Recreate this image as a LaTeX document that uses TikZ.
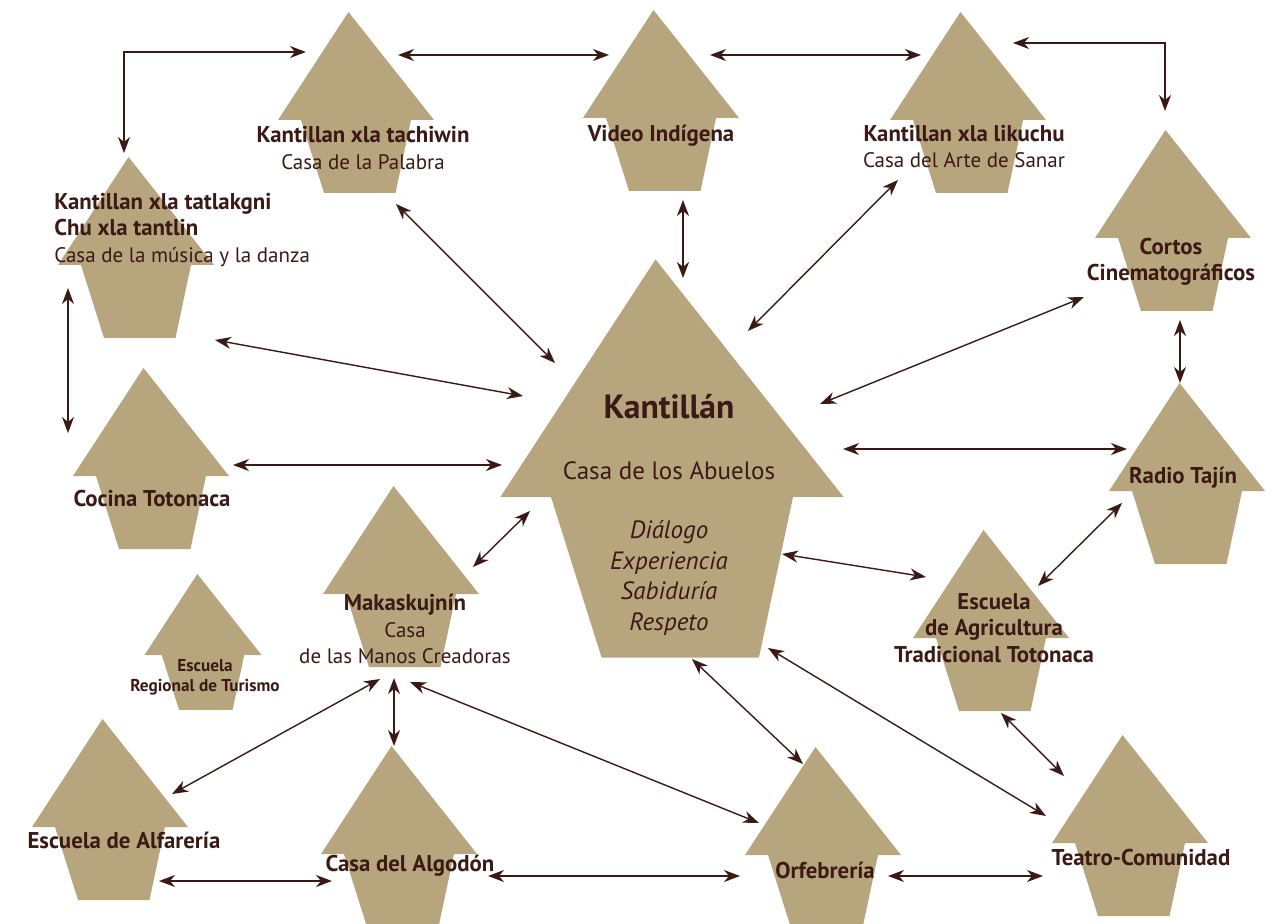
\documentclass[tikz,border=0pt]{standalone}
\usepackage{fontspec}
\setmainfont{PT Sans}
\usetikzlibrary{arrows.meta}

\definecolor{arena}{RGB}{183,165,126}
\definecolor{cafe}{RGB}{59,26,22}

% casa: nombre, x, y (centro del alero), escala
\newcommand{\casa}[4]{%
  \fill[arena,shift={(#2,#3)},scale=#4] (-7.5,-108) -- (78,0) -- (55,0)
    -- (39.5,73) -- (-32,73) -- (-55,0) -- (-78,0) -- cycle;
  \coordinate (#1) at (#2,#3);}
\newcommand{\negr}[1]{{\fontsize{11.4}{13.25}\selectfont\bfseries #1}}

\begin{document}
\begin{tikzpicture}[x=0.5pt,y=-0.5pt,
  every node/.style = {text=cafe, align=center, inner sep=0pt,
    font=\fontsize{10.5}{13.25}\selectfont},
  >={Stealth[length=8pt,width=6pt,inset=2.5pt]},
  flecha/.style = {draw=cafe, line width=0.7pt, <->}]
  \useasboundingbox (0,0) rectangle (1277,924);

  \casa{pal}{356}{120}{1}
  \casa{vid}{661}{118}{1}
  \casa{lik}{968}{120}{1}
  \casa{cor}{1173}{238}{1}
  \casa{tat}{136}{265}{1}
  \casa{coc}{151}{476}{1}
  \casa{tur}{203}{655}{0.75}
  \casa{mak}{401}{594}{1}
  \casa{alf}{110}{827}{1}
  \casa{alg}{399}{854}{1}
  \casa{orf}{823}{855}{1}
  \casa{tea}{1130}{843}{1}
  \casa{agr}{991}{638}{1}
  \casa{rad}{1187}{491}{1}
  \casa{kan}{672}{497}{2.2}

  \node (pal-t) at (363,148) {\negr{Kantillan xla tachiwin}\\Casa de la Palabra};
  \node (vid-t) at (661,136) {\negr{Video Indígena}};
  \node (lik-t) at (964,146.5) {\negr{Kantillan xla likuchu}\\Casa del Arte de Sanar};
  \node (cor-t) at (1171,262) {\negr{Cortos}\\\negr{Cinematográficos}};
  \node[anchor=west, align=left] (tat-t) at (54,230)
    {\negr{Kantillan xla tatlakgni}\\\negr{Chu xla tantlin}\\Casa de la música y la danza};
  \node (coc-t) at (152,499) {\negr{Cocina Totonaca}};
  \node[font=\fontsize{8.6}{10}\selectfont\bfseries] (tur-t) at (205,677)
    {Escuela\\Regional de Turismo};
  \node (mak-t) at (405,629) {\negr{Makaskujnín}\\Casa\\de las Manos Creadoras};
  \node[font=\fontsize{16.8}{18}\selectfont\bfseries] (kan-t) at (669,407) {Kantillán};
  \node[font=\fontsize{12.5}{15}\selectfont] (kan-s) at (669,471) {Casa de los Abuelos};
  \node[font=\fontsize{12.5}{15.2}\selectfont\itshape] (kan-v) at (669,578)
    {Diálogo\\Experiencia\\Sabiduría\\Respeto};
  \node (rad-t) at (1183,478) {\negr{Radio Tajín}};
  \node (agr-t) at (994,628) {\negr{Escuela}\\\negr{de Agricultura}\\\negr{Tradicional Totonaca}};
  \node (alf-t) at (124,840) {\negr{Escuela de Alfarería}};
  \node (alg-t) at (410,866) {\negr{Casa del Algodón}};
  \node (orf-t) at (825,870) {\negr{Orfebrería}};
  \node (tea-t) at (1141,858) {\negr{Teatro-Comunidad}};

  \draw[flecha] ([shift={(-50,-68)}]pal) -| ([shift={(-12,-112)}]tat);
  \draw[flecha] ([shift={(42,-65)}]pal) -- ([shift={(-52,-63)}]vid);
  \draw[flecha] ([shift={(49,-63)}]vid) -- ([shift={(-47,-65)}]lik);
  \draw[flecha] ([shift={(45,-77)}]lik) -| ([shift={(-8,-127)}]cor);
  \draw[flecha] ([shift={(22,82)}]vid) -- ([shift={(11,-219)}]kan);
  \draw[flecha] ([shift={(-70,60)}]lik) -- ([shift={(76,-166)}]kan);
  \draw[flecha] ([shift={(40,84)}]pal) -- ([shift={(-117,-134)}]kan);
  \draw[flecha] ([shift={(79,75)}]tat) -- ([shift={(-149,-101)}]kan);
  \draw[flecha] ([shift={(-68,23)}]tat) -- ([shift={(-83,-43)}]coc);
  \draw[flecha] ([shift={(82,-11)}]coc) -- ([shift={(-170,-32)}]kan);
  \draw[flecha] ([shift={(72,-27)}]mak) -- ([shift={(-142,14)}]kan);
  \draw[flecha] ([shift={(-89,59)}]cor) -- ([shift={(148,-93)}]kan);
  \draw[flecha] ([shift={(7,82)}]cor) -- ([shift={(-7,-108)}]rad);
  \draw[flecha] ([shift={(171,-48)}]kan) -- ([shift={(-60,-42)}]rad);
  \draw[flecha] ([shift={(-65,12)}]rad) -- ([shift={(47,-52)}]agr);
  \draw[flecha] ([shift={(110,57)}]kan) -- ([shift={(-65,-61)}]agr);
  \draw[flecha] ([shift={(20,162)}]kan) -- ([shift={(-20,-91)}]orf);
  \draw[flecha] ([shift={(96,151)}]kan) -- ([shift={(-84,-27)}]tea);
  \draw[flecha] ([shift={(10,75)}]agr) -- ([shift={(-66,-67)}]tea);
  \draw[flecha] ([shift={(-21,85)}]mak) -- ([shift={(62,-33)}]alf);
  \draw[flecha] ([shift={(-7,84)}]mak) -- ([shift={(-5,-108)}]alg);
  \draw[flecha] ([shift={(9,88)}]mak) -- ([shift={(-64,-32)}]orf);
  \draw[flecha] ([shift={(49,54)}]alf) -- ([shift={(-67,27)}]alg);
  \draw[flecha] ([shift={(89,22)}]alg) -- ([shift={(-83,21)}]orf);
  \draw[flecha] ([shift={(65,21)}]orf) -- ([shift={(-87,33)}]tea);
\end{tikzpicture}
\end{document}
